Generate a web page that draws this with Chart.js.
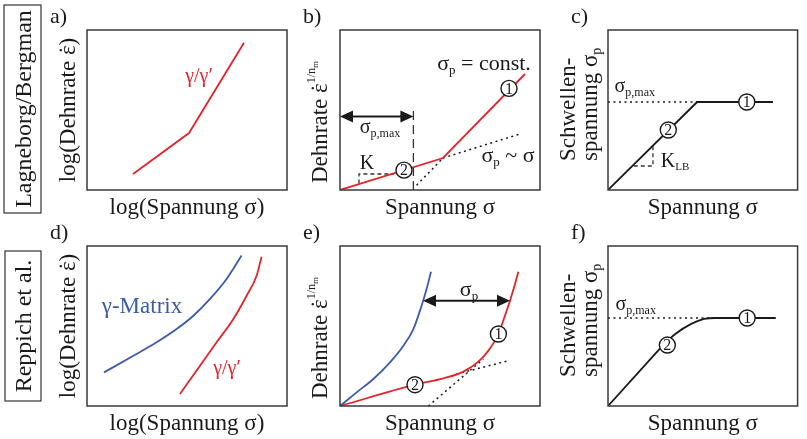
<!DOCTYPE html>
<html>
<head>
<meta charset="utf-8">
<script src="https://cdn.jsdelivr.net/npm/chart.js@4.4.1/dist/chart.umd.min.js"></script>
<style>
  body { margin: 0; background: #fff; }
  #wrap { position: relative; width: 807px; height: 439px; }
  canvas { position: absolute; }
</style>
</head>
<body>
<div id="wrap">
  <canvas id="pa" width="300" height="219" style="left:0;top:0"></canvas>
  <canvas id="pb" width="260" height="219" style="left:300px;top:0"></canvas>
  <canvas id="pc" width="247" height="219" style="left:560px;top:0"></canvas>
  <canvas id="pd" width="300" height="220" style="left:0;top:219px"></canvas>
  <canvas id="pe" width="260" height="220" style="left:300px;top:219px"></canvas>
  <canvas id="pf" width="247" height="220" style="left:560px;top:219px"></canvas>
</div>
<script>
// schematic curves, axes run 0..100 (arbitrary units)
const lineA = [[23, 10], [51, 35.6], [78.5, 92]];

const redB = [[0, 0], [51.5, 20], [92.5, 72.5]];
const steepB = [[38.3, 3], [51.5, 20]];
const flatB = [[51.5, 20], [90, 35]];
const limitB = [[36.7, 0], [36.7, 51]];
const slopeB = [[9.5, 4], [9.5, 10], [27, 10]];
const markB = [[84.5, 63.5], [32, 12.4]];

const lineC = [[0, 0], [47, 55], [87, 55]];
const maxC = [[0, 55], [47, 55]];
const slopeC = [[13.6, 15], [23.7, 15], [23.7, 27.5]];
const markC = [[73.2, 55], [31.8, 37.5]];

const blueD = [[8.5, 21], [23.2, 31.4], [34.8, 39.8], [44.8, 48.1], [53.2, 56.4], [61.5, 66.9], [69.8, 79.4], [77.3, 94]];
const redD = [[46.5, 7.5], [56.5, 25.2], [64.8, 39.8], [73.2, 54.4], [79.8, 68.9], [84.8, 81.4], [87.3, 93.3]];

const blueE = [[0, 0], [8.3, 8.5], [16.7, 16.9], [25, 27.3], [31.7, 37.7], [36.7, 48.1], [40.8, 62.7], [43.3, 73.1], [45.5, 83.9]];
const redE = [[0, 0], [37.5, 13.3], [51.7, 17.3], [61.7, 21.5], [69.2, 27.7], [74.2, 34.6], [79.2, 45], [82.5, 56.5], [85, 65.8], [87.5, 76.3], [89.2, 83.9]];
const steepE = [[44.2, 0], [71.7, 29.4]];
const flatE = [[58.3, 20], [84.2, 28.3]];
const markE = [[79.2, 45], [37.5, 13.3]];

const riseF = [[0, 0], [28.8, 37.7]];
const bendF = [[28.8, 37.7], [35.5, 45], [43.9, 51.3], [50.7, 54.4], [56.6, 55], [88.5, 55]];
const maxF = [[0, 55], [56.6, 55]];
const markF = [[73.4, 55], [31.3, 38.1]];

const RED = '#e4232b';
const BLUE = '#3d5ba9';
const INK = '#1a1a1a';
const FONT = '"Liberation Serif", serif';

function font(s) { return s + 'px ' + FONT; }

// parts: [text, size, dy, dotAbove]
function drawRich(ctx, parts, x, y, align) {
  let w = 0;
  parts.forEach(p => { ctx.font = font(p[1]); w += ctx.measureText(p[0]).width; });
  let cx = align === 'center' ? x - w / 2 : x;
  ctx.textBaseline = 'alphabetic';
  parts.forEach(p => {
    ctx.font = font(p[1]);
    ctx.textAlign = 'left';
    const pw = ctx.measureText(p[0]).width;
    ctx.fillText(p[0], cx, y + (p[2] || 0));
    if (p[3]) {
      ctx.textAlign = 'center';
      ctx.fillText('\u02d9', cx + pw / 2, y + (p[2] || 0));
    }
    cx += pw;
  });
}

function arrowHead(ctx, x, y, dir) {
  ctx.beginPath();
  ctx.moveTo(x, y);
  ctx.lineTo(x - dir * 13, y - 6);
  ctx.lineTo(x - dir * 13, y + 6);
  ctx.closePath();
  ctx.fill();
}

const decoPlugin = {
  id: 'deco',
  afterDraw(chart, args, o) {
    const ctx = chart.ctx;
    const a = chart.chartArea;
    const sx = chart.scales.x, sy = chart.scales.y;
    ctx.save();

    // arrows between two x values at one height
    ctx.fillStyle = INK;
    ctx.strokeStyle = INK;
    (o.arrows || []).forEach(ar => {
      const x1 = sx.getPixelForValue(ar[0]), x2 = sx.getPixelForValue(ar[1]);
      const y = sy.getPixelForValue(ar[2]);
      ctx.lineWidth = 2;
      ctx.beginPath();
      ctx.moveTo(x1 + 10, y);
      ctx.lineTo(x2 - 10, y);
      ctx.stroke();
      arrowHead(ctx, x1, y, -1);
      arrowHead(ctx, x2, y, 1);
    });

    // numbers inside the circle markers
    ctx.font = font(16);
    ctx.textAlign = 'center';
    ctx.textBaseline = 'middle';
    (o.marks || []).forEach((m, i) => {
      ctx.fillText(String(i + 1), sx.getPixelForValue(m[0]), sy.getPixelForValue(m[1]) + 1);
    });

    // labels placed in data units
    (o.texts || []).forEach(t => {
      ctx.fillStyle = t.color || INK;
      const px = sx.getPixelForValue(t.x);
      const py = sy.getPixelForValue(t.y) + t.parts[0][1] * 0.32;
      drawRich(ctx, t.parts, px, py, 'center');
    });

    // frame
    ctx.strokeStyle = '#3a3a3a';
    ctx.lineWidth = 1.5;
    ctx.strokeRect(a.left, a.top, a.right - a.left, a.bottom - a.top);

    // panel letter
    ctx.fillStyle = INK;
    drawRich(ctx, [[o.letter, 22]], a.left - 37, a.top - 7, 'left');

    // x title
    drawRich(ctx, o.xTitle, (a.left + a.right) / 2, a.bottom + 24, 'center');

    // y title lines
    o.yTitle.forEach(l => {
      ctx.save();
      const start = l.from === 'center' ? (a.top + a.bottom) / 2 : a.bottom - l.from;
      ctx.translate(a.left - l.base, start);
      ctx.rotate(-Math.PI / 2);
      drawRich(ctx, l.parts, 0, 0, l.from === 'center' ? 'center' : 'left');
      ctx.restore();
    });

    // row caption in a box
    if (o.row) {
      const b = o.row.box;
      ctx.strokeStyle = '#333';
      ctx.lineWidth = 1.2;
      ctx.strokeRect(b[0], b[1], b[2], b[3]);
      ctx.save();
      ctx.translate(b[0] + b[2] / 2 + 8, b[1] + b[3] / 2);
      ctx.rotate(-Math.PI / 2);
      drawRich(ctx, [[o.row.text, 24]], 0, 0, 'center');
      ctx.restore();
    }
    ctx.restore();
  }
};

function pts(list) { return list.map(p => ({ x: p[0], y: p[1] })); }

function line(list, color, extra) {
  return Object.assign({
    data: pts(list), showLine: true, borderColor: color, borderWidth: 1.8,
    pointRadius: 0, tension: 0, fill: false, order: 2
  }, extra || {});
}
function smooth(list, color) {
  return line(list, color, { cubicInterpolationMode: 'monotone' });
}
function dotted(list) {
  return line(list, INK, { borderWidth: 1.5, borderDash: [2, 3.5] });
}
function dashed(list, dash) {
  return line(list, '#333', { borderWidth: 1.3, borderDash: dash });
}
function markers(list) {
  return {
    data: pts(list), showLine: false, pointRadius: 8, pointBackgroundColor: '#fff',
    pointBorderColor: INK, pointBorderWidth: 1.4, order: 0
  };
}

function panel(id, pad, datasets, deco) {
  return new Chart(document.getElementById(id), {
    type: 'scatter',
    data: { datasets },
    options: {
      responsive: false,
      animation: false,
      events: [],
      layout: { padding: pad },
      scales: {
        x: { type: 'linear', min: 0, max: 100, display: false },
        y: { type: 'linear', min: 0, max: 100, display: false }
      },
      plugins: { legend: { display: false }, tooltip: { enabled: false }, deco }
    },
    plugins: [decoPlugin]
  });
}

const logRate = [['log(Dehnrate ', 23], ['ε', 23, 0, true], [')', 23]];
const logStress = [['log(Spannung σ)', 23]];
const stress = [['Spannung σ', 23]];
const rateN = [['Dehnrate ', 23], ['ε', 23, 0, true], ['1/n', 12, -12], ['m', 9, -9]];
const threshold = [
  { parts: [['Schwellen-', 23]], base: 33, from: 29 },
  { parts: [['spannung σ', 23], ['p', 14, 4]], base: 11, from: 29 }
];
const sigPmax = [['σ', 20], ['p,max', 12, 4]];

const padTop = { left: 0, right: 0, top: 30, bottom: 29 };
const padBot = { left: 0, right: 0, top: 27, bottom: 33 };

panel('pa', Object.assign({}, padTop, { left: 87, right: 13 }),
  [line(lineA, RED)],
  {
    letter: 'a)', xTitle: logStress, yTitle: [{ parts: logRate, base: 12, from: 'center' }],
    texts: [{ x: 56, y: 71.3, parts: [['γ/γ′', 20]], color: RED }],
    row: { text: 'Lagneborg/Bergman', box: [4, 5, 37, 208] }
  });

panel('pb', Object.assign({}, padTop, { left: 40, right: 20 }),
  [line(redB, RED), dotted(steepB), dotted(flatB), dashed(limitB, [9, 5]), dashed(slopeB, [4, 3]), markers(markB)],
  {
    letter: 'b)', xTitle: stress, yTitle: [{ parts: rateN, base: 13, from: 7 }],
    marks: markB,
    arrows: [[0, 36.7, 46]],
    texts: [
      { x: 72, y: 79.4, parts: [['σ', 22], ['p', 13, 4], [' = const.', 22]] },
      { x: 84, y: 21.9, parts: [['σ', 22], ['p', 13, 4], [' ~ σ', 22]] },
      { x: 20, y: 39.4, parts: sigPmax },
      { x: 13.5, y: 16.9, parts: [['K', 20]] }
    ]
  });

panel('pc', Object.assign({}, padTop, { left: 48, right: 1 }),
  [line(lineC, INK), dotted(maxC), dashed(slopeC, [4, 3]), markers(markC)],
  {
    letter: 'c)', xTitle: stress, yTitle: threshold, marks: markC,
    texts: [
      { x: 14.1, y: 65.5, parts: sigPmax },
      { x: 35.4, y: 18.1, parts: [['K', 20], ['LB', 11, 3]] }
    ]
  });

panel('pd', Object.assign({}, padBot, { left: 87, right: 13 }),
  [smooth(blueD, BLUE), smooth(redD, RED)],
  {
    letter: 'd)', xTitle: logStress, yTitle: [{ parts: logRate, base: 12, from: 'center' }],
    texts: [
      { x: 27.5, y: 62.5, parts: [['γ-Matrix', 23]], color: BLUE },
      { x: 70, y: 23.75, parts: [['γ/γ′', 20]], color: RED }
    ],
    row: { text: 'Reppich et al.', box: [5, 32, 36, 150] }
  });

panel('pe', Object.assign({}, padBot, { left: 40, right: 20 }),
  [smooth(blueE, BLUE), smooth(redE, RED), dotted(steepE), dotted(flatE), markers(markE)],
  {
    letter: 'e)', xTitle: stress, yTitle: [{ parts: rateN, base: 13, from: 7 }],
    marks: markE,
    arrows: [[41.5, 85, 65.8]],
    texts: [{ x: 64.5, y: 73.1, parts: [['σ', 22], ['p', 13, 4]] }]
  });

panel('pf', Object.assign({}, padBot, { left: 48, right: 1 }),
  [line(riseF, INK), smooth(bendF, INK), dotted(maxF), markers(markF)],
  {
    letter: 'f)', xTitle: stress, yTitle: threshold, marks: markF,
    texts: [{ x: 14.6, y: 64, parts: sigPmax }]
  });
</script>
</body>
</html>
